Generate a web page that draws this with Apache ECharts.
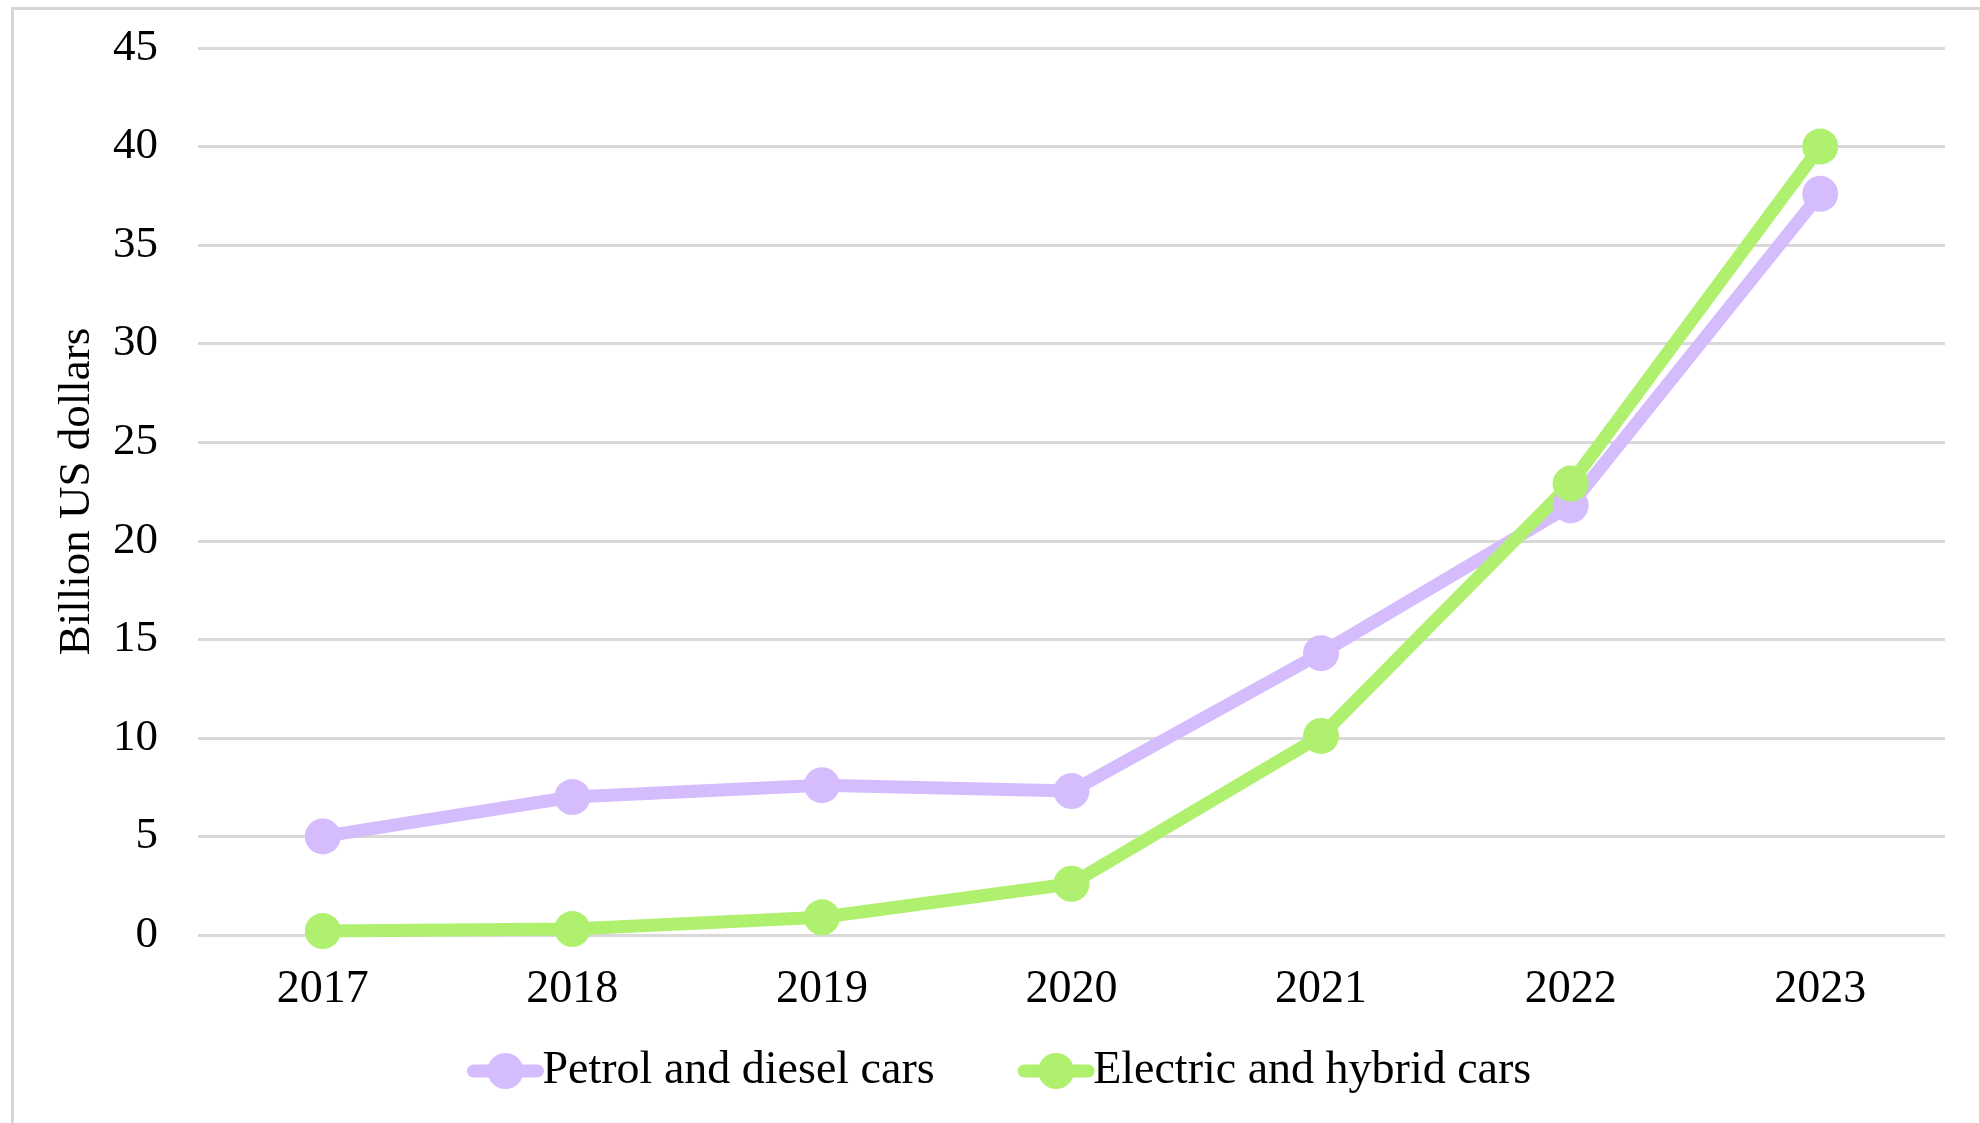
<!DOCTYPE html>
<html>
<head>
<meta charset="utf-8">
<title>Car spending, 2017–2023</title>
<script src="https://cdn.jsdelivr.net/npm/echarts@6/dist/echarts.min.js"></script>
<style>
  html, body { margin: 0; padding: 0; background: #ffffff; }
  #chart { width: 1980px; height: 1123px; }
</style>
</head>
<body>
<div id="chart"></div>
<script>
// Years on the category axis
const years = ['2017', '2018', '2019', '2020', '2021', '2022', '2023'];

// Spending, billion US dollars
const petrolDiesel = [5.0, 7.0, 7.6, 7.3, 14.3, 21.8, 37.6];
const electricHybrid = [0.2, 0.3, 0.9, 2.6, 10.1, 22.9, 40.0];

// Value axis ticks
const yMin = 0;
const yMax = 45;
const yStep = 5;

const seriesNames = ['Petrol and diesel cars', 'Electric and hybrid cars'];
const seriesColors = ['#d5bdfd', '#aff06f'];

const serif = '"Liberation Serif", "Times New Roman", "DejaVu Serif", serif';

const chart = echarts.init(document.getElementById('chart'), null, { renderer: 'canvas' });

function lineSeries(name, data, color) {
  return {
    name: name,
    type: 'line',
    data: data,
    symbol: 'circle',
    symbolSize: 36,
    showSymbol: true,
    lineStyle: { color: color, width: 13 },
    itemStyle: { color: color },
    emphasis: { disabled: true },
    animation: false
  };
}

chart.setOption({
  backgroundColor: '#ffffff',
  animation: false,
  graphic: [{
    type: 'rect',
    left: 10,
    top: 6,
    shape: { width: 1968, height: 1140 },
    style: { fill: 'none', stroke: '#d6d6d6', lineWidth: 3 },
    silent: true,
    z: -10
  }],
  grid: { left: 198, right: 35, top: 48, bottom: 188, containLabel: false },
  xAxis: {
    type: 'category',
    data: years,
    boundaryGap: true,
    axisLine: { show: false },
    axisTick: { show: false },
    axisLabel: { color: '#000000', fontFamily: serif, fontSize: 46, margin: 32 },
    splitLine: { show: false }
  },
  yAxis: {
    type: 'value',
    min: yMin,
    max: yMax,
    interval: yStep,
    name: 'Billion US dollars',
    nameLocation: 'middle',
    nameRotate: 90,
    nameGap: 98,
    nameTextStyle: { color: '#000000', fontFamily: serif, fontSize: 45 },
    axisLine: { show: false },
    axisTick: { show: false },
    axisLabel: { color: '#000000', fontFamily: serif, fontSize: 45, margin: 40 },
    splitLine: { show: true, lineStyle: { color: '#d9d9d9', width: 3 } }
  },
  legend: {
    data: seriesNames,
    left: 462,
    top: 1043,
    itemWidth: 64,
    itemHeight: 45,
    itemGap: 83,
    lineStyle: { width: 13, cap: 'round' },
    textStyle: { color: '#000000', fontFamily: serif, fontSize: 46 },
    selectedMode: false
  },
  series: [
    lineSeries(seriesNames[0], petrolDiesel, seriesColors[0]),
    lineSeries(seriesNames[1], electricHybrid, seriesColors[1])
  ]
});
</script>
</body>
</html>
